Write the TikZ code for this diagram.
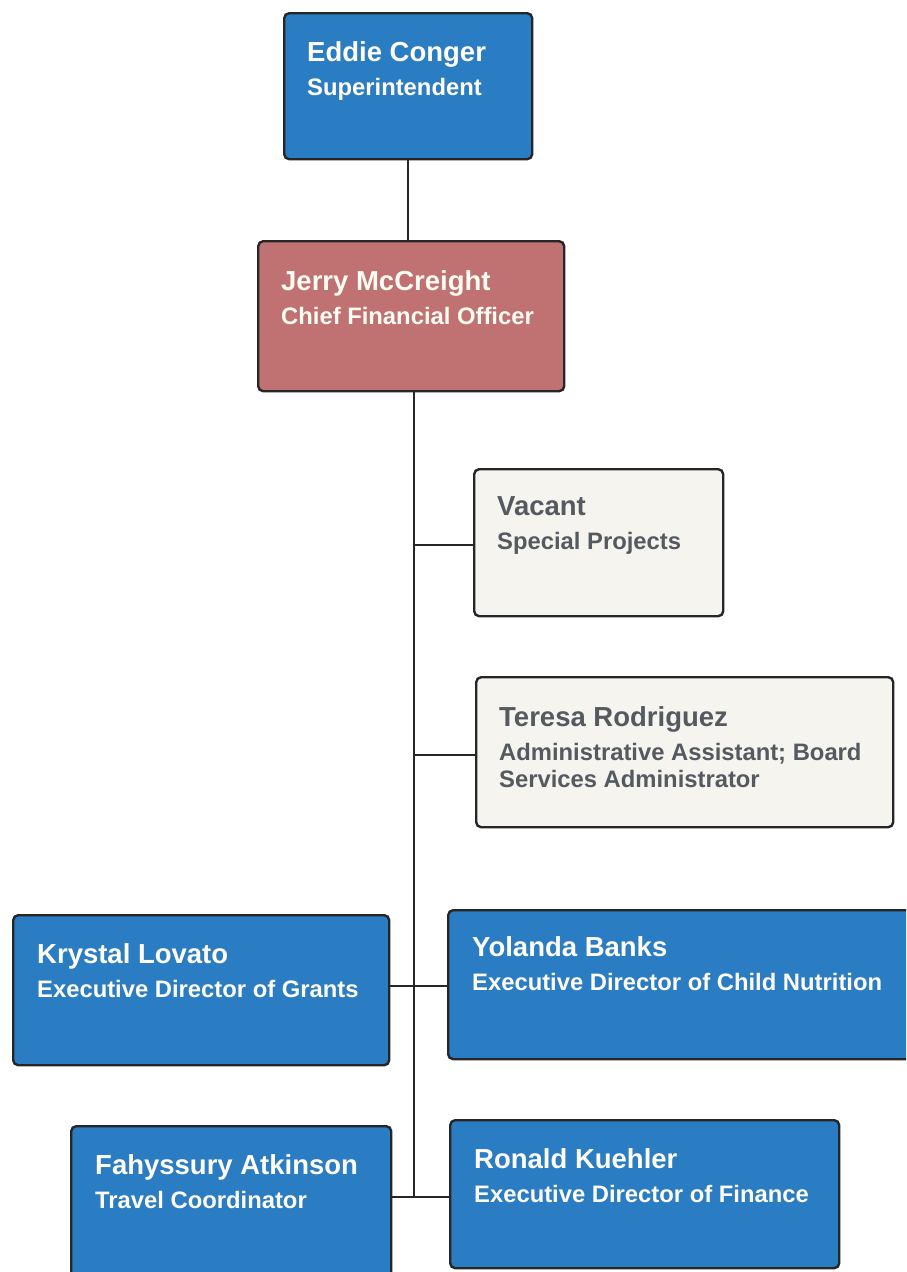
\documentclass[tikz,border=0pt]{standalone}
\usepackage{fontspec}
\setmainfont{Liberation Sans}
\definecolor{boxblue}{HTML}{2A7CC3}
\definecolor{boxrose}{HTML}{C07171}
\definecolor{boxlight}{HTML}{F6F4EF}
\definecolor{edge}{HTML}{262626}
\definecolor{greytext}{HTML}{555A61}
\definecolor{lighttext}{HTML}{FFFDF2}
\tikzset{
  orgbox/.style={draw=edge, line width=2.4pt, rounded corners=5pt, anchor=north west, inner sep=0pt},
  bluebox/.style={orgbox, fill=boxblue},
  rosebox/.style={orgbox, fill=boxrose},
  lightbox/.style={orgbox, fill=boxlight},
  boxtext/.style={anchor=north west, inner sep=0pt, align=left, font=\bfseries\fontsize{23.8}{27}\selectfont},
  wtext/.style={boxtext, text=lighttext},
  gtext/.style={boxtext, text=greytext},
  link/.style={draw=edge, line width=2.4pt}
}
\newcommand{\pname}[1]{{\fontsize{27.5}{27}\selectfont #1}}
\begin{document}
\begin{tikzpicture}[x=1pt,y=-1pt]
\useasboundingbox (0,0) rectangle (906,1272);
\clip (0,0) rectangle (906,1272);
\fill[white] (0,0) rectangle (906,1272);

% boxes
\node[bluebox, minimum width=248, minimum height=146] (eddie) at (283,12) {};
\node[rosebox, minimum width=306, minimum height=150] (jerry) at (257,240) {};
\node[lightbox, minimum width=249, minimum height=147] (vacant) at (473,468) {};
\node[lightbox, minimum width=417, minimum height=150] (teresa) at (475,676) {};
\node[bluebox, minimum width=376, minimum height=150] (krystal) at (12,914) {};
\node[bluebox, minimum width=480, minimum height=149] (yolanda) at (447,909) {};
\node[bluebox, minimum width=320, minimum height=170] (fahy) at (70,1125) {};
\node[bluebox, minimum width=389, minimum height=148] (ronald) at (449,1119) {};

% texts
\node[wtext] (eddie-t) at ([shift={(24,29)}]eddie.north west) {\pname{Eddie Conger}\\[7pt]Superintendent};
\node[wtext] (jerry-t) at ([shift={(24,30)}]jerry.north west) {\pname{Jerry McCreight}\\[7pt]Chief Financial Officer};
\node[gtext] (vacant-t) at ([shift={(24,28)}]vacant.north west) {\pname{Vacant}\\[7pt]Special Projects};
\node[gtext] (teresa-t) at ([shift={(24,30)}]teresa.north west) {\pname{Teresa Rodriguez}\\[7pt]Administrative Assistant; Board\\Services Administrator};
\node[wtext] (krystal-t) at ([shift={(25,29)}]krystal.north west) {\pname{Krystal Lovato}\\[7pt]Executive Director of Grants};
\node[wtext] (yolanda-t) at ([shift={(25,27)}]yolanda.north west) {\pname{Yolanda Banks}\\[7pt]Executive Director of Child Nutrition};
\node[wtext] (fahy-t) at ([shift={(25,29)}]fahy.north west) {\pname{Fahyssury Atkinson}\\[7pt]Travel Coordinator};
\node[wtext] (ronald-t) at ([shift={(25,29)}]ronald.north west) {\pname{Ronald Kuehler}\\[7pt]Executive Director of Finance};

% connectors
\coordinate (b1) at (414,545);
\coordinate (b2) at (414,755);
\coordinate (b3) at (414,986);
\coordinate (b4) at (414,1197);
\draw[link] (eddie.south) -- (eddie.south |- jerry.north);
\draw[link] (jerry.south -| b1) -- (b4);
\draw[link] (b1) -- (b1 -| vacant.west);
\draw[link] (b2) -- (b2 -| teresa.west);
\draw[link] (b3 -| krystal.east) -- (b3 -| yolanda.west);
\draw[link] (b4 -| fahy.east) -- (b4 -| ronald.west);
\end{tikzpicture}
\end{document}
